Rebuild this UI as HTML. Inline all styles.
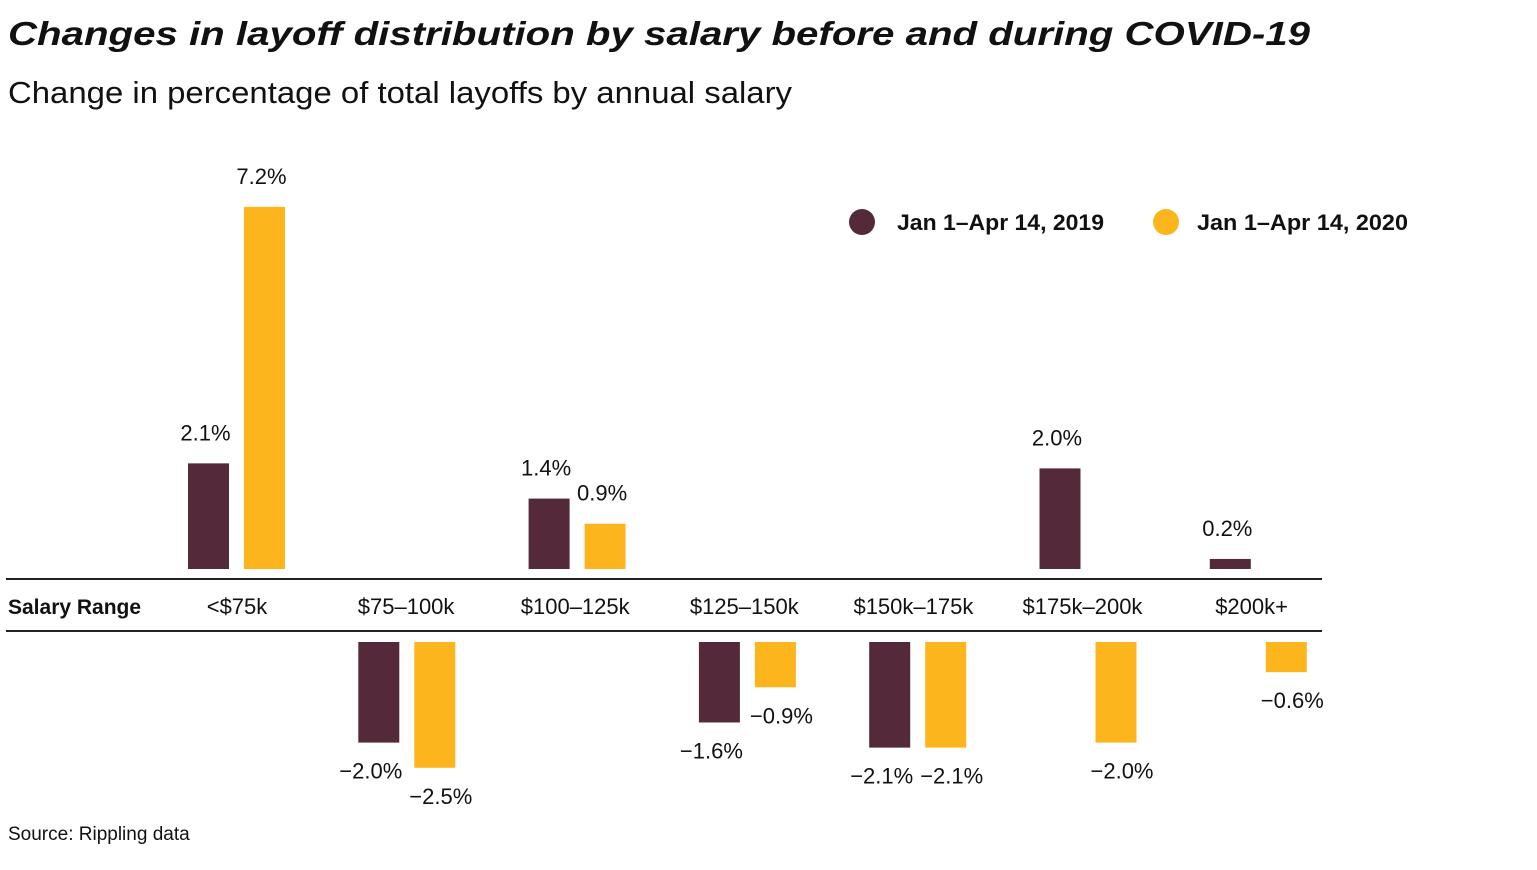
<!DOCTYPE html>
<html><head><meta charset="utf-8"><style>
body{margin:0;background:#fff;width:1537px;height:865px;overflow:hidden;font-family:"Liberation Sans",sans-serif;}
svg text{font-family:"Liberation Sans",sans-serif;}
</style></head><body>
<svg width="1537" height="865">
<text x="8" y="45" font-size="33" font-weight="bold" font-style="italic" fill="#111" textLength="1302" lengthAdjust="spacingAndGlyphs">Changes in layoff distribution by salary before and during COVID-19</text>
<text x="8" y="103" font-size="31" fill="#111" textLength="784" lengthAdjust="spacingAndGlyphs">Change in percentage of total layoffs by annual salary</text>
<g>
<circle cx="862" cy="222" r="13" fill="#54293a"/>
<text x="897" y="230" font-size="22" font-weight="bold" fill="#111" textLength="207" lengthAdjust="spacingAndGlyphs">Jan 1–Apr 14, 2019</text>
<circle cx="1166" cy="222" r="13" fill="#fdb51d"/>
<text x="1197" y="230" font-size="22" font-weight="bold" fill="#111" textLength="211" lengthAdjust="spacingAndGlyphs">Jan 1–Apr 14, 2020</text>
</g>
<line x1="6" y1="579" x2="1322" y2="579" stroke="#222" stroke-width="2"/>
<line x1="6" y1="631" x2="1322" y2="631" stroke="#222" stroke-width="2"/>
<text x="8" y="614" font-size="21" font-weight="bold" fill="#111">Salary Range</text>
<g id="bars"></g>
<text x="8" y="840" font-size="19" fill="#111">Source: Rippling data</text>
</svg>
<script>
const categories=["<$75k","$75–100k","$100–125k","$125–150k","$150k–175k","$175k–200k","$200k+"];
const values2019=[2.1,-2.0,1.4,-1.6,-2.1,2.0,0.2];
const values2020=[7.2,-2.5,0.9,-0.9,-2.1,-2.0,-0.6];
const NS="http://www.w3.org/2000/svg";
const g=document.getElementById('bars');
const posBase=569,negBase=642,scale=50.3;
function groupX(i){return 188+i*170.3;}
function yTop(v){return v>=0?posBase-v*scale:negBase;}
function h(v){return Math.abs(v)*scale;}
function fmt(v){return (v<0?"−":"")+Math.abs(v).toFixed(1)+"%";}
function mk(tag,attrs){const e=document.createElementNS(NS,tag);for(const k in attrs)e.setAttribute(k,attrs[k]);g.appendChild(e);return e;}
categories.forEach((c,i)=>{
  const gx=groupX(i);
  const t=mk('text',{x:gx+49-i*1.2,y:614,'font-size':22,'text-anchor':'middle',fill:'#111'});
  t.textContent=c;
  
  
  [[values2019[i],'#54293a',gx,-8],[values2020[i],'#fdb51d',gx+56,6]].forEach(([v,col,x,off],s)=>{
    const r=mk('rect',{x:x,y:yTop(v),width:41,height:h(v),fill:col});
    
    
    const cx=x+20.5;
    const ly=v>=0?yTop(v)-23:negBase+h(v)+36;
    const l=mk('text',{x:v>=0?cx-3:cx+off,y:ly,'font-size':22,'text-anchor':'middle',fill:'#111'});
    l.textContent=fmt(v);
    
    
  });
});
</script>
</body></html>
